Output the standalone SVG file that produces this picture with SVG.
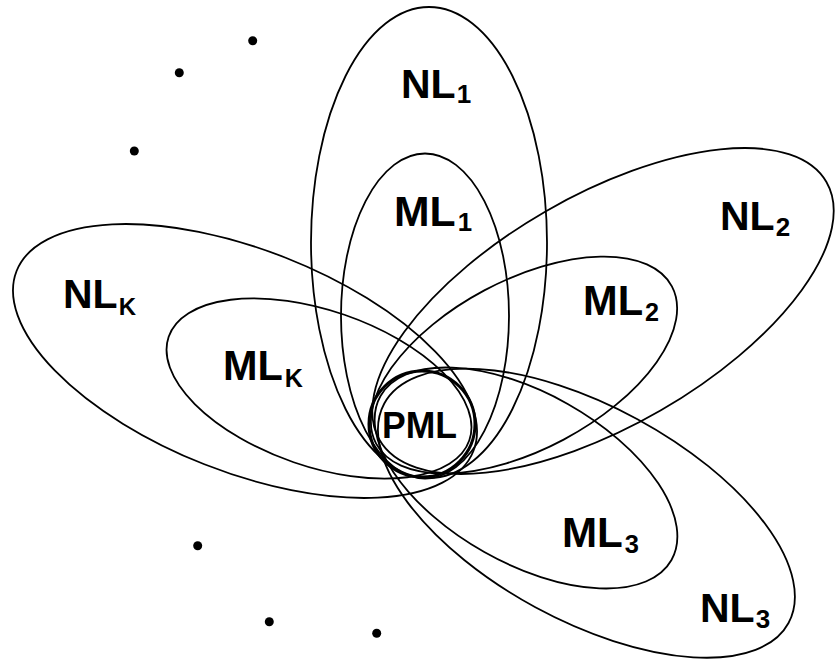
<svg xmlns="http://www.w3.org/2000/svg" width="835" height="661" viewBox="0 0 835 661">
  <style>
    .ring { fill: none; stroke: #000; stroke-width: 1.8; }
    .core { fill: none; stroke: #000; stroke-width: 3; }
    .lbl { font-family: "Liberation Sans", Arial, sans-serif; font-weight: bold; font-size: 43px; fill: #000; }
    .nl { font-size: 41px; }
    .sub { font-size: 26px; }
    .subk { font-size: 24px; }
    .dot { fill: #000; }
  </style>
  <rect width="835" height="661" fill="#fff"/>

  <!-- ellipse outlines -->
  <g id="connectors">
    <g id="NL1"><ellipse class="ring" cx="429" cy="242.5" rx="118" ry="235.5"/></g>
    <g id="ML1"><ellipse class="ring" cx="425" cy="316" rx="84" ry="162.5"/></g>
    <g id="NL2"><ellipse class="ring" cx="603" cy="311" rx="258" ry="115" transform="rotate(-30 603 311)"/></g>
    <g id="ML2"><ellipse class="ring" cx="524" cy="365" rx="167.5" ry="84.5" transform="rotate(-28 524 365)"/></g>
    <g id="NLK"><ellipse class="ring" cx="245" cy="361" rx="245.5" ry="111" transform="rotate(21.5 245 361)"/></g>
    <g id="MLK"><ellipse class="ring" cx="319" cy="388.5" rx="159" ry="78" transform="rotate(19 319 388.5)"/></g>
    <g id="NL3"><ellipse class="ring" cx="586.4" cy="513.2" rx="230" ry="107" transform="rotate(28.5 586.4 513.2)"/></g>
    <g id="ML3"><ellipse class="ring" cx="526" cy="478" rx="167" ry="85" transform="rotate(29.4 526 478)"/></g>
    <g id="PML"><circle class="core" cx="422" cy="424" r="53"/></g>
  </g>

  <!-- labels -->
  <g id="labels">
    <text class="lbl nl" x="401" y="98">NL<tspan class="sub" dx="1" dy="5">1</tspan></text>
    <text class="lbl" x="394" y="226" textLength="78" lengthAdjust="spacingAndGlyphs">ML<tspan class="sub" dx="2" dy="5">1</tspan></text>
    <text class="lbl nl" x="720" y="230">NL<tspan class="sub" dx="1" dy="6">2</tspan></text>
    <text class="lbl" x="583" y="315" textLength="76" lengthAdjust="spacingAndGlyphs">ML<tspan class="sub" dx="2" dy="6">2</tspan></text>
    <text class="lbl nl" x="63" y="308">NL<tspan class="subk" dx="1" dy="7">K</tspan></text>
    <text class="lbl" x="223" y="380" textLength="80" lengthAdjust="spacingAndGlyphs">ML<tspan class="sub" dx="2" dy="7">K</tspan></text>
    <text class="lbl" x="382" y="438" textLength="75" lengthAdjust="spacingAndGlyphs" style="font-size:36px">PML</text>
    <text class="lbl" x="562" y="547" textLength="77" lengthAdjust="spacingAndGlyphs">ML<tspan class="sub" dx="2" dy="6">3</tspan></text>
    <text class="lbl nl" x="700" y="622">NL<tspan class="sub" dx="1" dy="6">3</tspan></text>
  </g>

  <!-- ellipsis dots -->
  <g id="dots">
    <circle class="dot" cx="252.7" cy="40.7" r="4.5"/>
    <circle class="dot" cx="179.3" cy="72.7" r="4.5"/>
    <circle class="dot" cx="134.3" cy="151" r="4.5"/>
    <circle class="dot" cx="197.7" cy="545.7" r="4.5"/>
    <circle class="dot" cx="269.3" cy="621.7" r="4.5"/>
    <circle class="dot" cx="376.7" cy="633.3" r="4.5"/>
  </g>
</svg>
